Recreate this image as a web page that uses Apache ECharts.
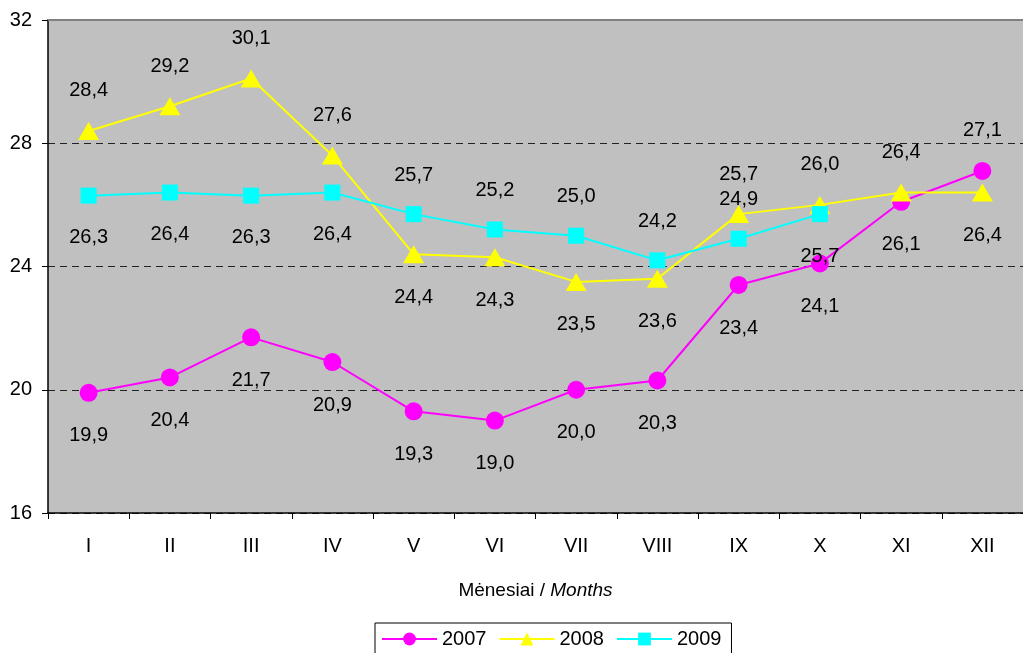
<!DOCTYPE html>
<html><head><meta charset="utf-8">
<script src="https://cdn.jsdelivr.net/npm/echarts@6/dist/echarts.min.js"></script>
<style>html,body{margin:0;padding:0;background:#fff}#c{width:1023px;height:653px}</style>
</head><body><div id="c"></div>
<script>
const categories = ['I','II','III','IV','V','VI','VII','VIII','IX','X','XI','XII'];
const s2007 = [19.9,20.4,21.7,20.9,19.3,19.0,20.0,20.3,23.4,24.1,26.1,27.1];
const s2008 = [28.4,29.2,30.1,27.6,24.4,24.3,23.5,23.6,25.7,26.0,26.4,26.4];
const s2009 = [26.3,26.4,26.3,26.4,25.7,25.2,25.0,24.2,24.9,25.7];
const yTicks = {min:16, max:32, interval:4};

// label placement (t = top, b = bottom)
const pos2007 = ['b','b','b','b','b','b','b','b','b','b','b','t'];
const pos2008 = ['t','t','t','t','b','b','b','b','t','t','t','b'];
const pos2009 = ['b','b','b','b','t','t','t','t','t','b'];

function build(vals, pos){
  return vals.map((v,i)=>{
    const p = pos[i];
    return {value:v, label:{position: p==='t'?'top':'bottom', distance: p==='t'?21:24}};
  });
}
const FF = 'Liberation Sans, Arial';
const fmt = p => p.value.toFixed(1).replace('.',',');
const labelBase = {show:true, color:'#000', fontSize:20, fontFamily:FF, formatter:fmt};

const chart = echarts.init(document.getElementById('c'));
chart.setOption({
  animation:false,
  textStyle:{fontFamily:FF},
  grid:{left:48, top:20, width:981, height:493, show:true, backgroundColor:'#C0C0C0', borderWidth:0},
  legend:{
    bottom:-4, left:375, itemWidth:55, itemHeight:16, itemGap:12,
    borderColor:'#000', borderWidth:1, padding:[6,10,8,6],
    textStyle:{fontSize:20, color:'#000', fontFamily:FF},
    data:['2007','2008','2009']
  },
  xAxis:[{
    type:'category', data:categories, boundaryGap:true,
    axisLine:{lineStyle:{color:'#000', width:1.5}},
    axisTick:{show:true, length:6, lineStyle:{color:'#000'}},
    axisLabel:{fontSize:20, color:'#000', margin:23},
    name:'{a|Mėnesiai / }{b|Months}', nameLocation:'middle', nameGap:68,
    nameTextStyle:{rich:{a:{fontSize:19,color:'#000',fontFamily:FF}, b:{fontSize:19,color:'#000',fontStyle:'italic',fontFamily:FF}}}
  },{
    type:'category', data:categories, position:'top', boundaryGap:true,
    axisLine:{show:true, lineStyle:{color:'#808080', width:2}},
    axisTick:{show:false}, axisLabel:{show:false}
  }],
  yAxis:{
    type:'value', min:yTicks.min, max:yTicks.max, interval:yTicks.interval,
    axisLine:{show:true, lineStyle:{color:'#000', width:1.5}},
    axisTick:{show:true, length:6, lineStyle:{color:'#000'}},
    axisLabel:{fontSize:20, color:'#000', margin:16},
    splitLine:{show:true, lineStyle:{color:'#222', type:[7,5], width:1}}
  },
  series:[
    {name:'2007', type:'line', data:build(s2007,pos2007), symbol:'circle', symbolSize:18,
     lineStyle:{color:'#FF00FF', width:2}, itemStyle:{color:'#FF00FF'}, label:labelBase, z:3},
    {name:'2008', type:'line', data:build(s2008,pos2008), symbol:'triangle', symbolSize:[21,18],
     lineStyle:{color:'#FFFF00', width:2}, itemStyle:{color:'#FFFF00'}, label:labelBase, z:4},
    {name:'2009', type:'line', data:build(s2009,pos2009), symbol:'rect', symbolSize:16,
     lineStyle:{color:'#00FFFF', width:2}, itemStyle:{color:'#00FFFF'}, label:labelBase, z:5}
  ]
});
</script></body></html>
